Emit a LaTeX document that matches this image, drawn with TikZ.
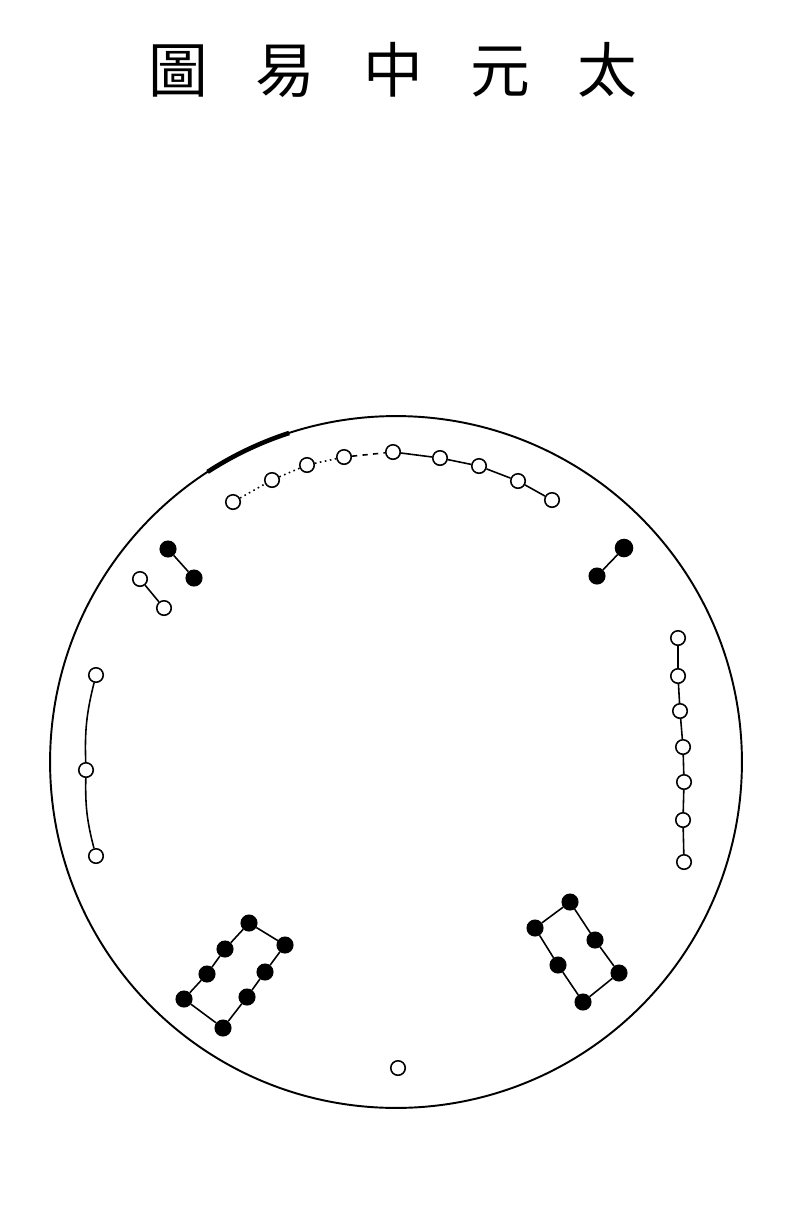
\documentclass[tikz,border=0pt]{standalone}
\usepackage{fontspec}
\newfontfamily\cjk{Noto Sans CJK TC}
\begin{document}
\begin{tikzpicture}[x=0.02cm,y=-0.02cm,
  wc/.style={circle,draw,fill=white,line width=0.9pt,inner sep=0pt,minimum size=0.29cm},
  bc/.style={circle,draw,fill=black,line width=0.9pt,inner sep=0pt,minimum size=0.31cm},
  link/.style={line width=0.9pt},
  dotlink/.style={line width=0.9pt,dotted},
  dashlink/.style={line width=0.9pt,dash pattern=on 3pt off 3pt}]
\useasboundingbox (0,0) rectangle (800,1230);
% title
\node (title) at (393,70) {\cjk\fontsize{34}{40}\selectfont 圖\hspace{0.95cm}易\hspace{0.95cm}中\hspace{0.95cm}元\hspace{0.95cm}太};
% big circle
\draw[line width=1.1pt] (396,762) circle[radius=6.92cm];
\draw[line width=2.6pt] (396,762) ++(108:6.92cm) arc[start angle=108,end angle=123,radius=6.92cm];
% top arc
\node[wc] (t1) at (233,502) {};
\node[wc] (t2) at (272,480) {};
\node[wc] (t3) at (307,465) {};
\node[wc] (t4) at (344,457) {};
\node[wc] (t5) at (393,452) {};
\node[wc] (t6) at (440,458) {};
\node[wc] (t7) at (479,466) {};
\node[wc] (t8) at (518,481) {};
\node[wc] (t9) at (552,500) {};
\draw[dotlink] (t1) -- (t2);
\draw[dotlink] (t2) -- (t3);
\draw[dotlink] (t3) -- (t4);
\draw[dashlink] (t4) -- (t5);
\draw[link] (t5) -- (t6);
\draw[link] (t6) -- (t7);
\draw[link] (t7) -- (t8);
\draw[link] (t8) -- (t9);
% upper left
\node[bc] (ulb1) at (168,549) {};
\node[bc] (ulb2) at (194,578) {};
\draw[link] (ulb1) -- (ulb2);
\node[wc] (ulw1) at (140,579) {};
\node[wc] (ulw2) at (164,608) {};
\draw[link] (ulw1) -- (ulw2);
% upper right
\node[bc,minimum size=0.34cm] (urb1) at (624,548) {};
\node[bc] (urb2) at (597,576) {};
\draw[link] (urb1) -- (urb2);
% left
\node[wc] (l1) at (96,675) {};
\node[wc] (l2) at (86,770) {};
\node[wc] (l3) at (96,856) {};
\draw[link] (l1) to[bend right=8] (l2);
\draw[link] (l2) to[bend right=8] (l3);
% right
\node[wc] (r1) at (678,638) {};
\node[wc] (r2) at (678,676) {};
\node[wc] (r3) at (680,711) {};
\node[wc] (r4) at (683,747) {};
\node[wc] (r5) at (684,782) {};
\node[wc] (r6) at (683,820) {};
\node[wc] (r7) at (684,862) {};
\draw[link] (r1) -- (r2);
\draw[link] (r2) -- (r3);
\draw[link] (r3) -- (r4);
\draw[link] (r4) -- (r5);
\draw[link] (r5) -- (r6);
\draw[link] (r6) -- (r7);
% bottom left
\node[bc] (bl1) at (249,923) {};
\node[bc] (bl2) at (225,949) {};
\node[bc] (bl3) at (207,974) {};
\node[bc] (bl4) at (184,999) {};
\node[bc] (bl5) at (223,1028) {};
\node[bc] (bl6) at (247,997) {};
\node[bc] (bl7) at (265,972) {};
\node[bc] (bl8) at (285,945) {};
\draw[link] (bl1) -- (bl2);
\draw[link] (bl2) -- (bl3);
\draw[link] (bl3) -- (bl4);
\draw[link] (bl4) -- (bl5);
\draw[link] (bl5) -- (bl6);
\draw[link] (bl6) -- (bl7);
\draw[link] (bl7) -- (bl8);
\draw[link] (bl8) -- (bl1);
% bottom right
\node[bc] (br1) at (570,902) {};
\node[bc] (br2) at (535,928) {};
\node[bc] (br3) at (558,965) {};
\node[bc] (br4) at (583,1002) {};
\node[bc] (br5) at (619,973) {};
\node[bc] (br6) at (595,940) {};
\draw[link] (br1) -- (br2);
\draw[link] (br2) -- (br3);
\draw[link] (br3) -- (br4);
\draw[link] (br4) -- (br5);
\draw[link] (br5) -- (br6);
\draw[link] (br6) -- (br1);
% bottom
\node[wc] (b1) at (398,1068) {};
\end{tikzpicture}
\end{document}
